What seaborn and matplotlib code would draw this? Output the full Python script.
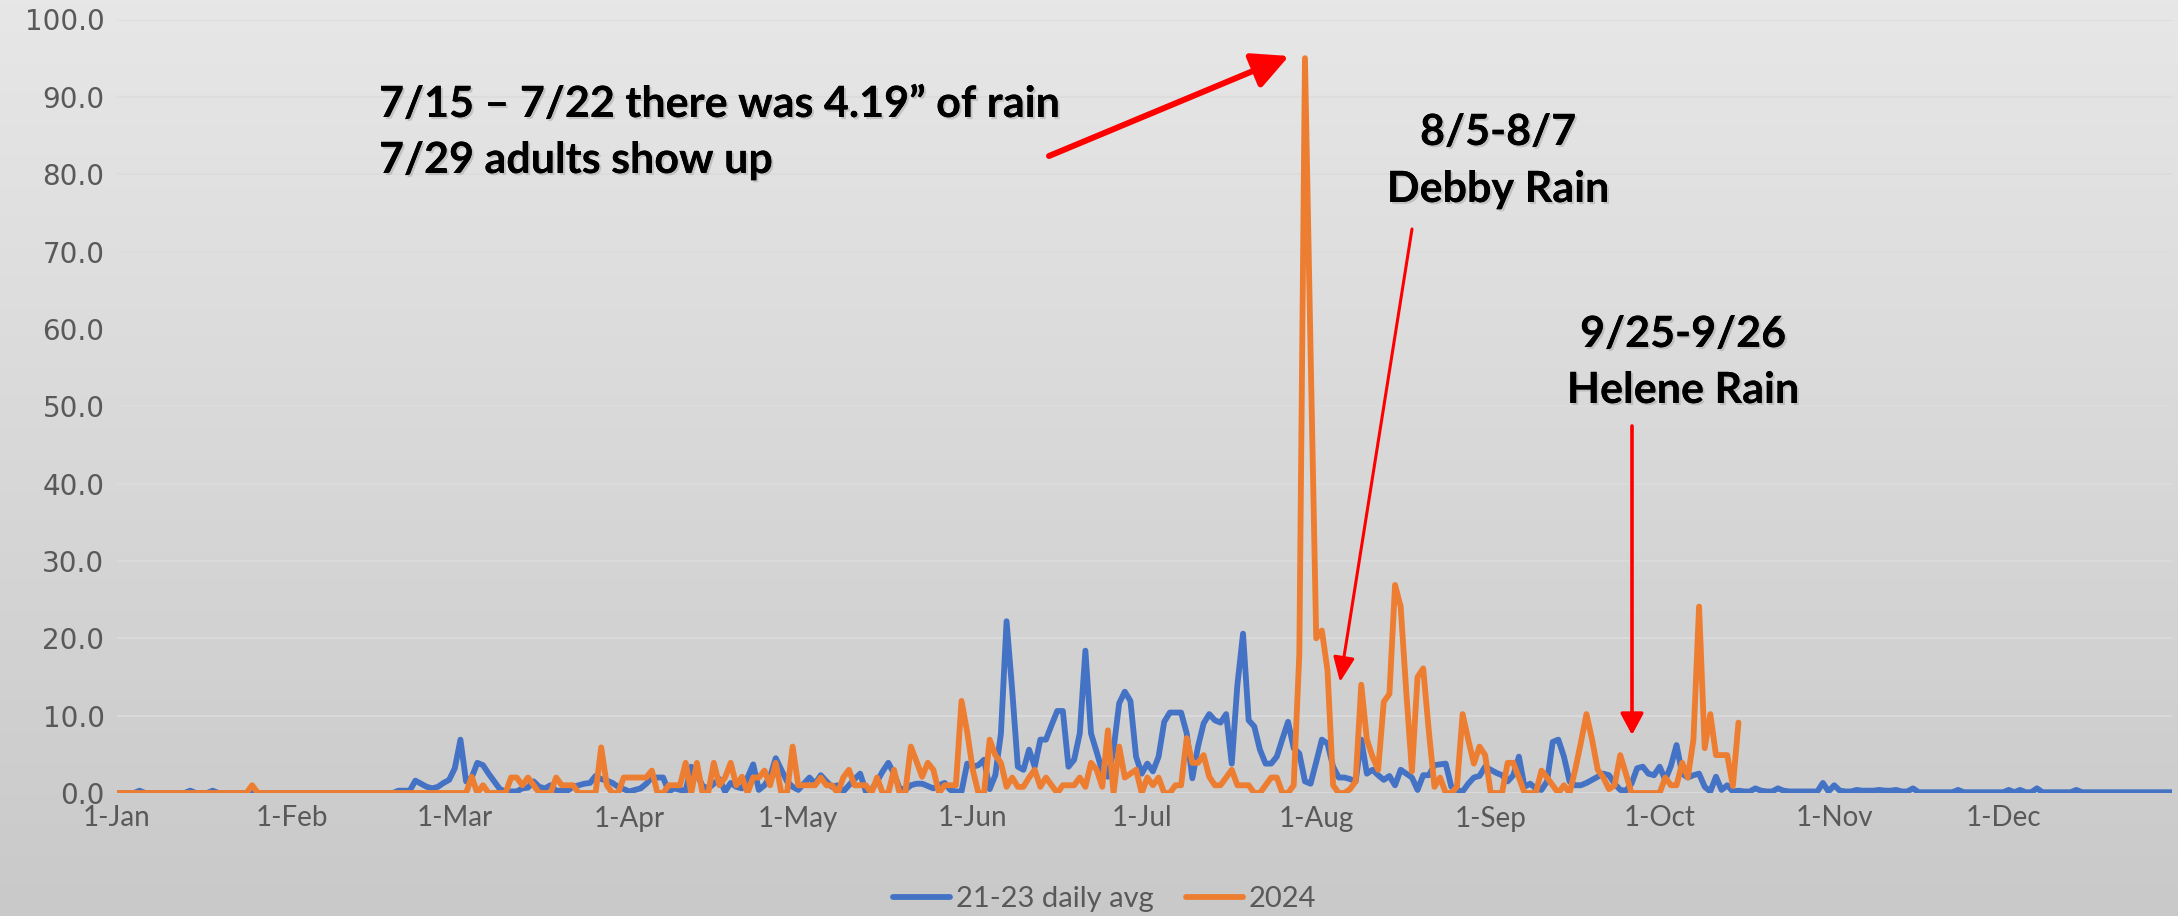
import numpy as np
import pandas as pd
import seaborn as sns
import matplotlib.pyplot as plt
import matplotlib.dates as mdates
import matplotlib.patheffects as pe

# daily counts (index 0 = 1-Jan-2024)
avg_21_23 = [
    0, 0, 0, 0, 0.3, 0, 0, 0, 0, 0,
    0, 0, 0, 0.3, 0, 0, 0, 0.3, 0, 0,
    0, 0, 0, 0, 0, 0, 0, 0, 0, 0,
    0, 0, 0, 0, 0, 0, 0, 0, 0, 0,
    0, 0, 0, 0, 0, 0, 0, 0, 0, 0,
    0.3, 0.3, 0.3, 1.6, 1.2, 0.8, 0.6, 0.8, 1.3, 1.7,
    3.2, 6.9, 1.5, 2.0, 3.9, 3.6, 2.5, 1.5, 0.5, 0.2,
    0.2, 0.2, 0.6, 0.7, 1.5, 0.8, 0.6, 1.0, 0.3, 0.3,
    0.3, 0.8, 1.0, 1.2, 1.3, 2.2, 1.8, 1.6, 1.3, 0.8,
    0.5, 0.2, 0.4, 0.6, 1.2, 2.0, 2.0, 2.0, 0.2, 0.6,
    0.4, 0.3, 3.4, 2.5, 0.9, 0.6, 1.2, 1.8, 0.2, 1.3,
    0.8, 0.6, 2.0, 3.7, 0.4, 1.0, 2.1, 4.5, 3.0, 1.5,
    0.8, 0.4, 1.2, 2.0, 1.2, 2.3, 1.5, 0.8, 1.0, 0.2,
    1.0, 1.8, 2.5, 0.2, 0.4, 1.5, 2.8, 3.9, 2.5, 0.6,
    0.4, 1.0, 1.2, 1.2, 0.9, 0.6, 1.0, 1.3, 0.4, 0.2,
    0.2, 3.8, 3.4, 3.6, 4.3, 0.5, 2.3, 7.7, 22.2, 13.3,
    3.4, 3.0, 5.6, 3.4, 6.9, 6.9, 8.8, 10.6, 10.6, 3.4,
    4.3, 7.7, 18.4, 7.7, 5.3, 2.8, 2.1, 5.6, 11.6, 13.1,
    11.9, 4.7, 2.5, 3.8, 2.8, 4.7, 9.2, 10.4, 10.4, 10.4,
    7.7, 1.9, 6.0, 9.0, 10.2, 9.4, 9.1, 10.2, 3.8, 14.0,
    20.6, 9.4, 8.6, 5.6, 3.8, 3.8, 4.7, 7.0, 9.2, 5.8,
    5.1, 1.5, 1.2, 4.0, 6.9, 6.4, 3.4, 2.0, 2.0, 1.8,
    1.5, 6.9, 2.5, 3.0, 2.3, 1.7, 2.2, 1.0, 3.0, 2.5,
    2.0, 0.4, 2.3, 2.3, 3.6, 3.7, 3.8, 0.8, 0.4, 0.2,
    1.2, 2.0, 2.2, 3.4, 3.0, 2.6, 2.3, 1.5, 2.3, 4.7,
    0.8, 1.2, 0.6, 0.4, 1.5, 6.6, 6.9, 4.7, 1.5, 1.0,
    1.0, 1.3, 1.7, 2.1, 2.5, 2.3, 1.2, 0.4, 0.3, 1.2,
    3.2, 3.4, 2.5, 2.3, 3.4, 1.7, 3.5, 6.2, 2.5, 2.0,
    2.3, 2.5, 0.8, 0.2, 2.1, 0.4, 1.0, 0.2, 0.3, 0.2,
    0.2, 0.6, 0.3, 0.2, 0.2, 0.6, 0.3, 0.2, 0.2, 0.2,
    0.2, 0.2, 0.2, 1.3, 0.2, 1.0, 0.3, 0.2, 0.2, 0.4,
    0.3, 0.3, 0.3, 0.4, 0.3, 0.3, 0.4, 0.2, 0.2, 0.6,
    0.1, 0.1, 0.1, 0.1, 0.1, 0.1, 0.1, 0.4, 0.1, 0.1,
    0.1, 0.1, 0.1, 0.1, 0.1, 0.1, 0.4, 0.1, 0.4, 0.1,
    0.1, 0.6, 0.1, 0.1, 0.1, 0.1, 0.1, 0.1, 0.4, 0.1,
    0.1, 0.1, 0.1, 0.1, 0.1, 0.1, 0.1, 0.1, 0.1, 0.1,
    0.1, 0.1, 0.1, 0.1, 0.1, 0.1,
]

y2024 = [
    0, 0, 0, 0, 0, 0, 0, 0, 0, 0,
    0, 0, 0, 0, 0, 0, 0, 0, 0, 0,
    0, 0, 0, 0, 1.0, 0, 0, 0, 0, 0,
    0, 0, 0, 0, 0, 0, 0, 0, 0, 0,
    0, 0, 0, 0, 0, 0, 0, 0, 0, 0,
    0, 0, 0, 0, 0, 0, 0, 0, 0, 0,
    0, 0, 0, 2.1, 0, 1.0, 0, 0, 0, 0,
    2.0, 2.0, 1.0, 2.0, 1.0, 0, 0, 0, 2.0, 1.0,
    1.0, 1.0, 0, 0, 0, 0, 5.9, 1.0, 0, 0,
    2.0, 2.0, 2.0, 2.0, 2.0, 2.9, 0, 0, 1.0, 1.0,
    1.0, 3.9, 0, 3.9, 0, 0, 3.9, 1.0, 2.0, 3.9,
    1.0, 2.1, 0, 2.0, 2.0, 2.9, 1.0, 3.9, 0, 0,
    6.0, 1.0, 1.0, 1.0, 1.0, 2.0, 1.0, 1.0, 0, 2.0,
    3.0, 1.0, 1.0, 1.0, 0, 2.0, 0, 0, 3.0, 0,
    0, 6.0, 4.1, 2.1, 3.9, 3.0, 0, 1.0, 1.0, 1.0,
    11.9, 7.9, 3.0, 0, 0, 6.9, 4.9, 3.9, 0.8, 2.0,
    0.8, 0.8, 2.0, 3.0, 0.8, 2.0, 1.0, 0, 1.0, 1.0,
    1.0, 2.0, 0.8, 3.9, 3.0, 0.8, 8.1, 0, 6.0, 2.0,
    2.5, 3.0, 0, 2.0, 1.0, 2.0, 0, 0, 1.0, 1.0,
    7.1, 3.9, 3.9, 4.9, 2.1, 1.0, 1.0, 2.0, 3.0, 1.0,
    1.0, 1.0, 0, 0, 1.0, 2.0, 2.0, 0, 0, 1.0,
    18.0, 95.0, 57.0, 20.0, 21.0, 15.9, 1.0, 0, 0, 0.5,
    1.5, 14.0, 6.9, 4.7, 3.0, 11.8, 12.8, 26.9, 24.1, 13.0,
    2.8, 15.0, 16.1, 8.0, 0.8, 2.0, 0, 0, 0.8, 10.2,
    6.9, 3.8, 6.0, 4.9, 0, 0, 0, 3.9, 3.9, 2.0,
    0, 0, 0, 2.9, 2.0, 1.0, 0, 1.0, 0, 3.0,
    6.5, 10.2, 6.9, 3.0, 2.0, 0.5, 1.0, 4.9, 2.5, 0,
    0, 0, 0, 0, 0, 2.0, 1.0, 1.0, 3.9, 2.0,
    6.9, 24.1, 5.8, 10.2, 4.9, 4.9, 4.9, 0.9, 9.1,
]

series_names = ['21-23 daily avg', '2024']
colors = {'21-23 daily avg': '#4472C4', '2024': '#ED7D31'}

dates_avg = pd.date_range('2024-01-01', periods=len(avg_21_23), freq='D')
dates_24 = pd.date_range('2024-01-01', periods=len(y2024), freq='D')
df = pd.concat([
    pd.DataFrame({'date': dates_avg, 'value': avg_21_23, 'series': series_names[0]}),
    pd.DataFrame({'date': dates_24, 'value': y2024, 'series': series_names[1]}),
], ignore_index=True)

sns.set_style('white')
plt.rcParams['font.family'] = ['Lato', 'DejaVu Sans']

W, H = 2178, 916
fig = plt.figure(figsize=(W / 100, H / 100), dpi=100)

# gray gradient background like the Excel chart area
bg = fig.add_axes([0, 0, 1, 1], zorder=-10)
grad = np.linspace(0, 1, 256).reshape(-1, 1)
bg.imshow(grad, aspect='auto', cmap=plt.matplotlib.colors.LinearSegmentedColormap.from_list(
    'g', ['#e7e7e7', '#c9c9c9']), extent=[0, 1, 0, 1], origin='upper')
bg.set_axis_off()

ax = fig.add_axes([117 / W, 1 - 793 / H, (2172 - 117) / W, (793 - 19.5) / H])
ax.patch.set_alpha(0)

sns.lineplot(data=df, x='date', y='value', hue='series', hue_order=series_names,
             palette=colors, linewidth=4.2, ax=ax, estimator=None)
for ln in ax.get_lines():
    ln.set_solid_joinstyle('round')
    ln.set_solid_capstyle('round')

ax.set_xlim(pd.Timestamp('2024-01-01'), pd.Timestamp('2024-12-31'))
ax.set_ylim(0, 100)
ax.set_yticks(np.arange(0, 101, 10))
ax.yaxis.set_major_formatter(plt.FuncFormatter(lambda v, p: f'{v:.1f}'))
ax.xaxis.set_major_locator(mdates.MonthLocator())
ax.xaxis.set_major_formatter(mdates.DateFormatter('%-d-%b'))
ax.grid(axis='y', color='#dcdcdc', linewidth=1.2)
ax.set_axisbelow(True)
for s in ax.spines.values():
    s.set_visible(False)
ax.set_xlabel('')
ax.set_ylabel('')
ax.tick_params(axis='x', length=0, pad=9, labelsize=20, labelcolor='#595959')
ax.tick_params(axis='y', length=0, pad=9, labelsize=20, labelcolor='#595959')
for lab in ax.get_yticklabels():
    lab.set_fontfamily('DejaVu Sans')

sns.move_legend(ax, 'center', bbox_to_anchor=(1104.5 / W, 17 / H), bbox_transform=fig.transFigure,
                ncol=2, frameon=False, title=None, fontsize=21, handlelength=1.95,
                handletextpad=0.2, columnspacing=1.1)
for t in ax.get_legend().get_texts():
    t.set_color('#595959')
for h in ax.get_legend().legend_handles:
    h.set_linewidth(4.2)

shadow = [pe.withSimplePatchShadow(offset=(1.5, -1.5), shadow_rgbFace='#888888', alpha=0.35), pe.Normal()]
note = dict(fontsize=31, fontweight='bold', color='black', path_effects=shadow)

fig.text(379 / W, 1 - 117 / H, '7/15 \u2013 7/22 there was 4.19\u201d of rain', ha='left', va='baseline', **note)
fig.text(379 / W, 1 - 173 / H, '7/29 adults show up', ha='left', va='baseline', **note)
fig.text(1498 / W, 1 - 145 / H, '8/5-8/7', ha='center', va='baseline', **note)
fig.text(1498 / W, 1 - 202 / H, 'Debby Rain', ha='center', va='baseline', **note)
fig.text(1683 / W, 1 - 347 / H, '9/25-9/26', ha='center', va='baseline', **note)
fig.text(1683 / W, 1 - 403 / H, 'Helene Rain', ha='center', va='baseline', **note)


def arrow(tail, head, lw, hl, hw):
    ax.annotate('', xy=(head[0], H - head[1]), xytext=(tail[0], H - tail[1]),
                xycoords='figure pixels', textcoords='figure pixels',
                arrowprops=dict(arrowstyle=f'-|>,head_length={hl},head_width={hw}',
                                color='#ff0000', lw=lw, shrinkA=0, shrinkB=0,
                                mutation_scale=10))


arrow((1049, 156), (1289, 56), 4.3, 2.2, 1.1)
arrow((1412, 229), (1340, 682), 2.2, 1.5, 0.65)
arrow((1632, 426), (1632, 735), 2.6, 1.3, 0.7)

fig.savefig('out.png', dpi=100)
